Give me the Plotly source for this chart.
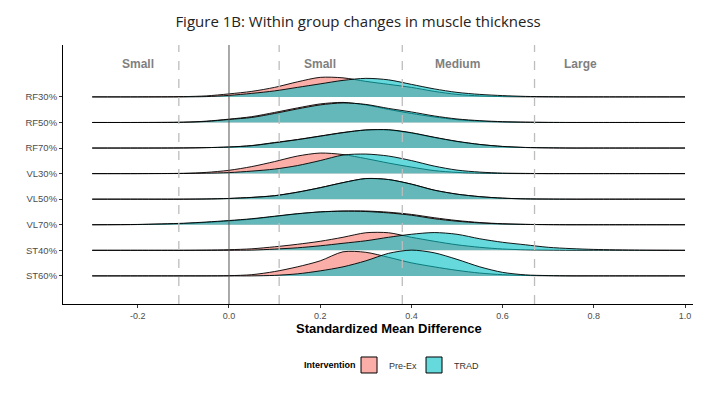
import plotly.graph_objects as go

# ---------------- data ----------------
rows = ["RF30%", "RF50%", "RF70%", "VL30%", "VL50%", "VL70%", "ST40%", "ST60%"]  # top -> bottom
groups = ["Pre-Ex", "TRAD"]

x_grid = [-0.3, -0.2, -0.1, -0.05, 0.0, 0.05, 0.1, 0.15, 0.2, 0.25, 0.3, 0.35,
          0.4, 0.45, 0.5, 0.55, 0.6, 0.65, 0.7, 0.75, 0.8, 0.9, 1.0]

# density heights (relative units; 25.5 units = one row)
pre_RF30 = [0, 0, 0.3, 1, 3, 5.5, 9.5, 15, 19.5, 19, 15.5, 12.5, 9.5, 5.5, 2.5, 1, 0.3, 0.1, 0, 0, 0, 0, 0]
trad_RF30 = [0, 0, 0, 0.3, 1.5, 3.5, 6, 9.5, 13, 16.5, 18.5, 17, 12.5, 8, 4.5, 2.5, 1.3, 0.5, 0.2, 0, 0, 0, 0]
pre_RF50 = [0, 0, 0.3, 1.3, 3.3, 5.8, 10, 14.5, 18.5, 20, 17.5, 13, 9, 5.5, 2.8, 1.3, 0.5, 0.2, 0, 0, 0, 0, 0]
trad_RF50 = [0, 0, 0.2, 1, 3, 5, 9, 13.5, 17.5, 19.5, 18, 14, 10.5, 6.5, 3.5, 1.8, 0.8, 0.3, 0.1, 0, 0, 0, 0]
pre_RF70 = [0, 0, 0.1, 0.4, 1, 2.5, 5.5, 8.5, 12, 15.5, 18, 18, 15, 10.5, 6.5, 3.5, 1.5, 0.5, 0.2, 0, 0, 0, 0]
trad_RF70 = [0, 0, 0.1, 0.4, 1, 2.3, 5.2, 8.3, 11.8, 15.3, 18, 18.3, 15.3, 10.8, 6.7, 3.6, 1.6, 0.6, 0.2, 0, 0, 0, 0]
pre_VL30 = [0, 0, 0.3, 1.2, 3.3, 7, 12, 17.5, 20.5, 19, 15, 10.5, 6.5, 3, 1.2, 0.4, 0.1, 0, 0, 0, 0, 0, 0]
trad_VL30 = [0, 0, 0.1, 0.4, 1, 2.5, 4.5, 8, 13, 18.5, 19.5, 17.5, 13, 7.5, 3.5, 1.5, 0.5, 0.2, 0, 0, 0, 0, 0]
pre_VL50 = [0, 0, 0, 0.2, 0.7, 1.8, 3.5, 7, 11.5, 16.5, 20.5, 19.5, 15, 9, 5, 2.5, 1, 0.3, 0.1, 0, 0, 0, 0]
trad_VL50 = [0, 0, 0, 0.2, 0.7, 1.7, 3.4, 6.9, 11.4, 16.5, 20.6, 19.6, 15, 9, 5, 2.5, 1, 0.3, 0.1, 0, 0, 0, 0]
pre_VL70 = [0, 0.2, 1.2, 2.3, 3.8, 5.6, 8.2, 10.8, 12.8, 13.7, 13.7, 12.5, 10.3, 7, 4.2, 2.2, 1, 0.4, 0.1, 0, 0, 0, 0]
trad_VL70 = [0, 0.3, 1.5, 2.7, 4.2, 6, 8.5, 11, 12.8, 13.5, 13.2, 11.8, 9.5, 6, 3.5, 1.8, 0.8, 0.3, 0.1, 0, 0, 0, 0]
pre_ST40 = [0, 0, 0, 0.2, 0.6, 1.5, 3.5, 6, 9, 13, 17.5, 17.5, 13, 9, 5.5, 3, 1.3, 0.5, 0.2, 0, 0, 0, 0]
trad_ST40 = [0, 0, 0, 0, 0, 0.2, 1.2, 2.5, 4.5, 7, 9.5, 13, 16, 17.7, 16, 11.5, 8, 5.5, 3, 1.7, 0.9, 0.2, 0]
pre_ST60 = [0, 0, 0, 0, 0.2, 1.2, 4.3, 9, 15, 24, 23.5, 18.5, 13, 9, 5.5, 2.8, 1.2, 0.4, 0.1, 0, 0, 0, 0]
trad_ST60 = [0, 0, 0, 0, 0, 0, 0.5, 2, 5, 9, 15, 22.5, 25.7, 23, 16.5, 9, 3.5, 1, 0.3, 0, 0, 0, 0]

pre_ex = [pre_RF30, pre_RF50, pre_RF70, pre_VL30, pre_VL50, pre_VL70, pre_ST40, pre_ST60]
trad = [trad_RF30, trad_RF50, trad_RF70, trad_VL30, trad_VL50, trad_VL70, trad_ST40, trad_ST60]

x_ticks = [-0.2, 0.0, 0.2, 0.4, 0.6, 0.8, 1.0]
x_tick_labels = ["-0.2", "0.0", "0.2", "0.4", "0.6", "0.8", "1.0"]
thresholds = [-0.11, 0.11, 0.38, 0.67]
zone_labels = ["Small", "Small", "Medium", "Large"]
zone_label_x = [-0.2, 0.2, 0.5, 0.77]

# ---------------- styling ----------------
HEIGHT_SCALE = 1 / 25.5
fills = {"Pre-Ex": "rgba(248,118,109,0.6)", "TRAD": "rgba(0,191,196,0.6)"}
n = len(rows)

fig = go.Figure()
for i, name in enumerate(rows):
    base = n - i
    for g, series in zip(groups, [pre_ex[i], trad[i]]):
        fig.add_trace(go.Scatter(x=x_grid, y=[base] * len(x_grid), mode="lines",
                                 line=dict(width=0), hoverinfo="skip", showlegend=False))
        fig.add_trace(go.Scatter(x=x_grid, y=[base + h * HEIGHT_SCALE for h in series],
                                 mode="lines", fill="tonexty", fillcolor=fills[g],
                                 line=dict(color="rgba(0,0,0,0.9)", width=1, shape="spline", smoothing=0.8),
                                 name=g, showlegend=False))

# legend entries (square keys)
for g in groups:
    fig.add_trace(go.Scatter(x=[None], y=[None], mode="markers", name=g,
                             marker=dict(symbol="square", size=16, color=fills[g],
                                         line=dict(color="black", width=1))))

shapes = [dict(type="line", xref="x", yref="paper", x0=0, x1=0, y0=0, y1=1,
               line=dict(color="#555555", width=1), layer="above")]
for t in thresholds:
    shapes.append(dict(type="line", xref="x", yref="paper", x0=t, x1=t, y0=0, y1=1,
                       line=dict(color="#BDBDBD", width=1.3, dash="dash"), layer="above"))

annotations = [dict(x=xx, y=9.3, xref="x", yref="y", text=f"<b>{t}</b>", showarrow=False,
                    font=dict(family="Liberation Sans, Arial", size=12, color="#7F7F7F"))
               for xx, t in zip(zone_label_x, zone_labels)]
annotations.append(dict(x=0.517, y=-0.095, xref="paper", yref="paper", xanchor="center", yanchor="middle",
                        text="<b>Standardized Mean Difference</b>", showarrow=False,
                        font=dict(family="Liberation Sans, Arial", size=13, color="black")))
annotations.append(dict(x=0.424, y=-0.2355, xref="paper", yref="paper", xanchor="center", yanchor="middle",
                        text="<b>Intervention</b>", showarrow=False,
                        font=dict(family="Liberation Sans, Arial", size=9, color="black")))

fig.update_layout(
    width=709, height=393,
    paper_bgcolor="white", plot_bgcolor="white",
    margin=dict(l=63, r=16, t=45, b=89),
    title=dict(text="Figure 1B: Within group changes in muscle thickness", x=0.505, xanchor="center",
               y=0.944, yanchor="middle", font=dict(family="Open Sans", size=15, color="#222222")),
    font=dict(family="Liberation Sans, Arial", size=9, color="#4D4D4D"),
    shapes=shapes, annotations=annotations,
    showlegend=True,
    legend=dict(orientation="h", x=0.454, xanchor="left", y=-0.2355, yanchor="middle",
                traceorder="normal", itemsizing="trace", entrywidth=20, entrywidthmode="pixels",
                font=dict(size=9, color="#333333"), itemwidth=30),
    xaxis=dict(range=[-0.364, 1.0175], tickvals=x_ticks, ticktext=x_tick_labels,
               showgrid=False, zeroline=False, showline=True, linecolor="black", linewidth=1,
               ticks="outside", ticklen=3, tickcolor="#333333"),
    yaxis=dict(range=[-0.1, 10.03], tickvals=[n - i for i in range(n)], ticktext=rows,
               showgrid=False, zeroline=False, showline=True, linecolor="black", linewidth=1,
               ticks="outside", ticklen=3, tickcolor="#333333", tickfont=dict(size=9.5)),
)

fig.write_html("out.html", config={"displayModeBar": False})
with open("out.html", encoding="utf-8") as f:
    html = f.read()
html = html.replace("<head>", "<head><style>html,body{margin:0;padding:0;overflow:hidden;}</style>", 1)
with open("out.html", "w", encoding="utf-8") as f:
    f.write(html)
